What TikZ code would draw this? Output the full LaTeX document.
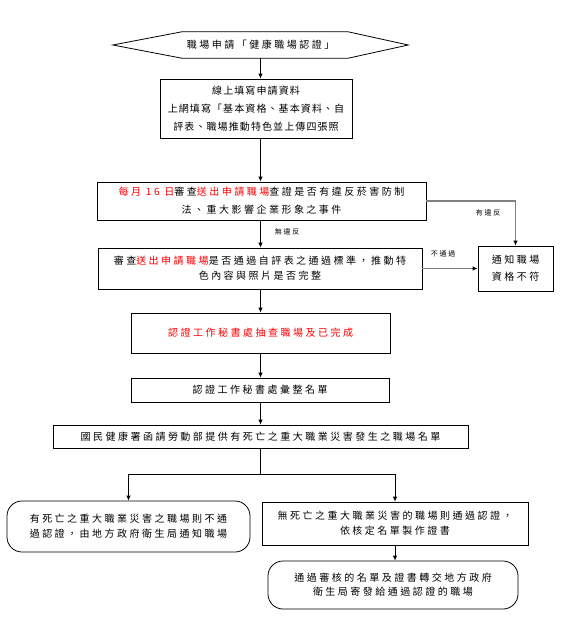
\documentclass[tikz,border=0pt]{standalone}
\usepackage{fontspec}
\usepackage{xcolor}
\setmainfont{Noto Sans CJK TC}[LetterSpace=25]
\newfontfamily\narrowcjk{Noto Sans CJK TC}[LetterSpace=11]
\usetikzlibrary{positioning,arrows.meta}

\begin{document}
\begin{tikzpicture}[x=1pt, y=-1pt,
    box/.style={draw, line width=0.8pt, align=center, inner sep=0pt, font=\fontsize{10}{15}\selectfont},
    roundbox/.style={box, rounded corners=15pt},
    arr/.style={-{Latex[length=5pt,width=4.5pt]}, line width=0.8pt},
    grayarr/.style={-{Latex[length=5pt,width=4.5pt,black]}, line width=1.5pt, gray},
    tag/.style={font=\fontsize{7}{8}\selectfont, inner sep=1pt}]
\useasboundingbox (0,0) rectangle (579,624);

\node[minimum width=295pt, minimum height=26pt, inner sep=0pt, font=\fontsize{10}{15}\selectfont] (title) at (260.5,45) {職場申請「健康職場認證」};
\draw[line width=0.8pt] (title.west) -- ([xshift=69pt]title.north west) -- ([xshift=-60pt]title.north east)
    -- (title.east) -- ([xshift=-60pt]title.south east) -- ([xshift=69pt]title.south west) -- cycle;

\node[box, minimum width=192pt, minimum height=59pt, font=\narrowcjk\fontsize{10}{18}\selectfont] (apply) at (256,108.5)
    {線上填寫申請資料\\上網填寫「基本資格、基本資料、自\\評表、職場推動特色並上傳四張照};
\node[box, minimum width=329pt, minimum height=38pt, font=\fontsize{10}{18}\selectfont] (check) at (261.5,201)
    {\textcolor{red}{每月 16 日}審查\textcolor{red}{送出申請職場}查證是否有違反菸害防制\\法、重大影響企業形象之事件};
\node[box, minimum width=324pt, minimum height=41pt] (review) at (260,268.5)
    {審查\textcolor{red}{送出申請職場}是否通過自評表之通過標準，推動特\\色內容與照片是否完整};
\node[box, minimum width=75pt, minimum height=45pt, font=\fontsize{10}{17}\selectfont] (notify) at (515.5,268.5) {通知職場\\資格不符};
\node[box, minimum width=259pt, minimum height=40pt, text=red] (sample) at (260.5,333) {認證工作秘書處抽查職場及已完成};
\node[box, minimum width=258pt, minimum height=24pt] (compile) at (260,390) {認證工作秘書處彙整名單};
\node[box, minimum width=415pt, minimum height=23pt] (list) at (260.5,436.5) {國民健康署函請勞動部提供有死亡之重大職業災害發生之職場名單};
\node[roundbox, minimum width=243pt, minimum height=51pt] (fail) at (128.5,526.5)
    {有死亡之重大職業災害之職場則不通\\過認證，由地方政府衛生局通知職場};
\node[box, minimum width=266pt, minimum height=43pt] (pass) at (395,523.5)
    {無死亡之重大職業災害的職場則通過認證，\\依核定名單製作證書};
\node[roundbox, minimum width=250pt, minimum height=48pt, font=\fontsize{10}{14}\selectfont] (send) at (393,585)
    {通過審核的名單及證書轉交地方政府\\衛生局寄發給通過認證的職場};

% labels
\node[tag] (lblnone) at (287,232) {無違反};
\node[tag] (lblviol) at (488,213) {有違反};
\node[tag] (lblfail) at (443,254) {不通過};

% main column
\coordinate (spine) at (260.5,0);
\coordinate (split) at (260.5,474);
\draw[arr] (title.south -| spine) -- (apply.north -| spine);
\draw[arr] (apply.south -| spine) -- (check.north -| spine);
\draw[arr] (check.south -| spine) -- (review.north -| spine);
\draw[arr] (review.south -| spine) -- (sample.north -| spine);
\draw[arr] (sample.south -| spine) -- (compile.north -| spine);
\draw[arr] (compile.south -| spine) -- (list.north -| spine);
\draw[line width=0.8pt] (list.south -| spine) -- (split);
\draw[arr] (split) -| (fail.north);
\draw[arr] (split) -| (pass.north);
\draw[arr] (pass.south) -- (pass.south |- send.north);

% side branches
\draw[grayarr] (check.east) -| (notify.north);
\draw[grayarr] (review.east) -- (notify.west);

\end{tikzpicture}
\end{document}
